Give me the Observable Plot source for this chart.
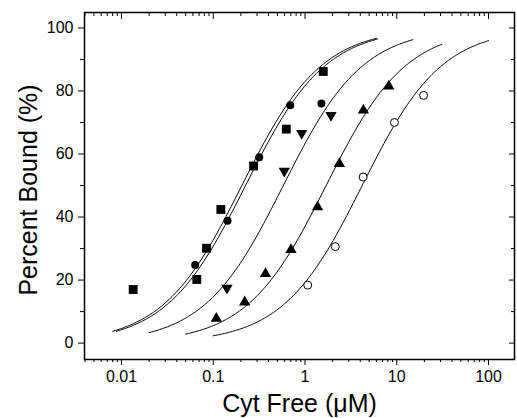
<!DOCTYPE html>
<html><head><meta charset="utf-8">
<script src="https://cdn.jsdelivr.net/npm/d3@7"></script>
<script src="https://cdn.jsdelivr.net/npm/@observablehq/plot@0.6"></script>
<style>body{margin:0;background:#fff}</style>
</head><body><div id="chart"></div>
<script>
// Measured data (x: Cyt free, µM; y: percent bound)
const squareX = [0.0134, 0.0662, 0.0845, 0.121, 0.275, 0.625, 1.58];
const squareY = [17.0, 20.2, 30.1, 42.4, 56.2, 67.9, 86.2];
const circleX = [0.0635, 0.143, 0.317, 0.69, 1.51];
const circleY = [24.8, 38.8, 59.0, 75.5, 76.0];
const downX = [0.141, 0.594, 0.92, 1.92];
const downY = [17.5, 54.6, 66.6, 72.3];
const upX = [0.108, 0.22, 0.371, 0.703, 1.37, 2.37, 4.33, 8.19];
const upY = [7.8, 13.0, 22.0, 29.6, 43.2, 56.9, 73.9, 81.5];
const openX = [1.07, 2.14, 4.3, 9.44, 19.6];
const openY = [18.4, 30.6, 52.7, 70.0, 78.6];

// Fitted binding curves (Hill, n = 1): half-saturation K and drawn range
const fitK = [0.205, 0.225, 0.58, 1.7, 4.2];
const fitFrom = [0.008, 0.0088, 0.02, 0.05, 0.1];
const fitTo = [6.0, 6.2, 15, 31, 100];

const xTickValues = [0.01, 0.1, 1, 10, 100];
const xTickLabels = ["0.01", "0.1", "1", "10", "100"];
const yTickValues = [0, 20, 40, 60, 80, 100];
const yMinorValues = [10, 30, 50, 70, 90];
const xLabel = "Cyt Free (\u03BCM)";
const yLabel = "Percent Bound (%)";

const xMinorValues = [];
for (let e = -3; e <= 2; e++) for (let m = 2; m <= 9; m++) {
  const v = m * Math.pow(10, e);
  if (v > 0.00395 && v < 192) xMinorValues.push(v);
}

const pts = (xs, ys) => xs.map((x, i) => ({x, y: ys[i]}));
const fits = fitK.map((K, i) => {
  const a = Math.log10(fitFrom[i]), b = Math.log10(fitTo[i]);
  return d3.range(0, 201).map(j => {
    const x = Math.pow(10, a + (b - a) * j / 200);
    return {x, y: 100 * x / (K + x), curve: i};
  });
}).flat();

const font = "Arial, 'Liberation Sans', sans-serif";
const chart = Plot.plot({
  width: 517, height: 418,
  marginLeft: 84, marginRight: 3, marginTop: 12, marginBottom: 59,
  style: {fontFamily: font, background: "white", color: "black", overflow: "visible"},
  x: {type: "log", domain: [0.00395, 192]},
  y: {domain: [-5.2, 104.9]},
  marks: [
    Plot.axisX({anchor: "bottom", ticks: xTickValues, tickSize: 6, tickPadding: 5,
      tickFormat: d => xTickLabels[xTickValues.findIndex(v => Math.abs(v - d) < 1e-9 * v)], fontSize: 16, label: null}),
    Plot.axisX({anchor: "bottom", ticks: xMinorValues, tickSize: 3, tickFormat: () => "", label: null}),
    Plot.axisX({anchor: "top", ticks: xTickValues, tickSize: -6, tickFormat: () => "", label: null}),
    Plot.axisX({anchor: "top", ticks: xMinorValues, tickSize: -3, tickFormat: () => "", label: null}),
    Plot.axisY({anchor: "left", ticks: yTickValues, tickSize: 6, tickPadding: 5, fontSize: 16, label: null}),
    Plot.axisY({anchor: "left", ticks: yMinorValues, tickSize: 4, tickFormat: () => "", label: null}),
    Plot.axisY({anchor: "right", ticks: yTickValues, tickSize: -6, tickFormat: () => "", label: null}),
    Plot.axisY({anchor: "right", ticks: yMinorValues, tickSize: -4, tickFormat: () => "", label: null}),
    Plot.frame({stroke: "black", strokeWidth: 1.5}),
    Plot.line(fits, {x: "x", y: "y", z: "curve", stroke: "black", strokeWidth: 1}),
    Plot.dot(pts(squareX, squareY), {x: "x", y: "y", symbol: "square", r: 5, fill: "black"}),
    Plot.dot(pts(circleX, circleY), {x: "x", y: "y", symbol: "circle", r: 4, fill: "black"}),
    Plot.dot(pts(downX, downY), {x: "x", y: "y", symbol: "triangle", r: 4.2, rotate: 180, fill: "black"}),
    Plot.dot(pts(upX, upY), {x: "x", y: "y", symbol: "triangle", r: 4.2, fill: "black"}),
    Plot.dot(pts(openX, openY), {x: "x", y: "y", symbol: "circle", r: 4, fill: "white", stroke: "black", strokeWidth: 1}),
    Plot.text([xLabel], {text: d => d, frameAnchor: "bottom", dy: 44, fontSize: 25, lineAnchor: "middle"}),
    Plot.text([yLabel], {text: d => d, frameAnchor: "left", dx: -56, dy: 4, rotate: -90, fontSize: 25, textAnchor: "middle"})
  ]
});
document.getElementById("chart").appendChild(chart);
</script>
</body></html>
